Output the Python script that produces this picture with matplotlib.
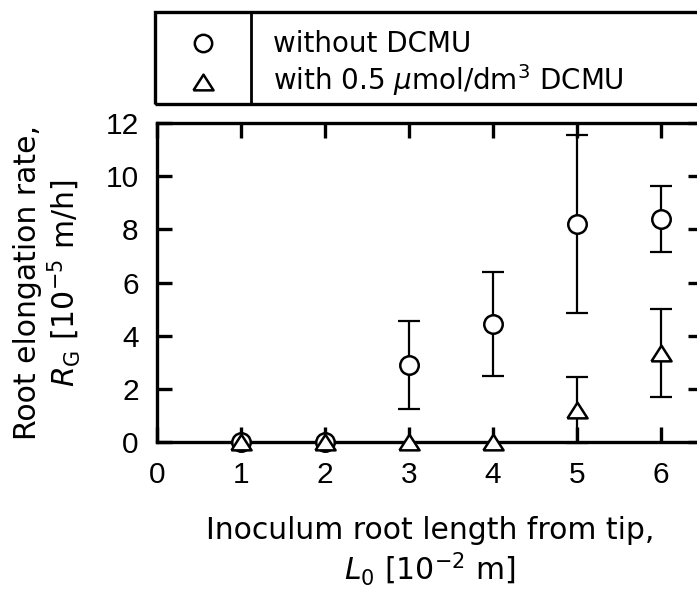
import numpy as np
import matplotlib
matplotlib.use('Agg')
import matplotlib.pyplot as plt
from matplotlib.lines import Line2D
from matplotlib.patches import Rectangle
from matplotlib.font_manager import FontProperties

# ---- data ----
x_lengths = [1, 2, 3, 4, 5, 6]
rate_without = [0.0, 0.0, 2.9, 4.45, 8.2, 8.4]
err_without = [0.0, 0.0, 1.67, 1.96, 3.35, 1.24]
rate_with = [0.0, 0.0, 0.0, 0.0, 1.2, 3.35]
err_with = [0.0, 0.0, 0.0, 0.0, 1.24, 1.65]
xticks = [0, 1, 2, 3, 4, 5, 6]
yticks = [0, 2, 4, 6, 8, 10, 12]
legend_labels = ['without DCMU', 'with 0.5 $\\mu$mol/dm$^3$ DCMU']
xlabel = 'Inoculum root length from tip,\n$L_0$ [10$^{-2}$ m]'
ylabel = 'Root elongation rate,\n$R_\\mathrm{G}$ [10$^{-5}$ m/h]'

plt.rcParams['font.family'] = ['DejaVu Sans']
plt.rcParams['mathtext.fontset'] = 'dejavusans'

W, H = 697, 589
fig = plt.figure(figsize=(W / 100, H / 100), dpi=100)

def fx(px):
    return px / W

def fy(py):
    return 1 - py / H

ax_left, ax_right, ax_top, ax_bottom = 156.7, 703, 123, 442
ax = fig.add_axes([fx(ax_left), fy(ax_bottom), fx(ax_right - ax_left), (ax_bottom - ax_top) / H])

tri = [(-1, -0.78), (1, -0.78), (0, 0.78), (-1, -0.78)]

x = np.array(x_lengths, dtype=float)
yw = np.array(rate_without)
ew = np.array(err_without)
yd = np.array(rate_with)
ed = np.array(err_with)

lw_err = 1.6
cap = 7.6
mw = ew > 0
ax.errorbar(x[mw], yw[mw], yerr=ew[mw], fmt='none', ecolor='black',
            elinewidth=lw_err, capsize=cap, capthick=lw_err, zorder=3, clip_on=False)
md = ed > 0
ax.errorbar(x[md], yd[md], yerr=ed[md], fmt='none', ecolor='black',
            elinewidth=lw_err, capsize=cap, capthick=lw_err, zorder=3, clip_on=False)

ax.plot(x, yw, linestyle='none', marker='o', markersize=13.3, markerfacecolor='white',
        markeredgecolor='black', markeredgewidth=1.8, zorder=4, clip_on=False)
ax.plot(x, yd, linestyle='none', marker=tri, markersize=14.5, markerfacecolor='white',
        markeredgecolor='black', markeredgewidth=1.8, zorder=5, clip_on=False)

ax.set_xlim(0, 6.5)
ax.set_ylim(0, 12)
ax.set_xticks(xticks)
ax.set_yticks(yticks)
ax.tick_params(axis='both', direction='in', length=11, width=2.4,
               top=True, right=True, colors='black')
ax.tick_params(axis='x', pad=14)
ax.tick_params(axis='y', pad=13)
tick_font = FontProperties(family='Liberation Sans', size=21.5)
ax.set_xticklabels([str(v) for v in xticks], fontproperties=tick_font)
ax.set_yticklabels([str(v) for v in yticks], fontproperties=tick_font)
for lab in ax.get_xticklabels() + ax.get_yticklabels():
    lab.set_fontproperties(tick_font)
for s in ax.spines.values():
    s.set_linewidth(2.4)
    s.set_color('black')

# axis labels
fig.text(fx(430), fy(552), xlabel, ha='center', va='center', fontsize=21.5,
         linespacing=1.15, multialignment='center')
fig.text(fx(48), fy(283), ylabel, ha='center', va='center', rotation=90,
         fontsize=21.5, linespacing=1.1, multialignment='center')

# legend box (drawn as figure artists)
box_l, box_r, box_t, box_b = 155, 740, 12, 104
rect = Rectangle((fx(box_l), fy(box_b)), fx(box_r - box_l), (box_b - box_t) / H,
                 transform=fig.transFigure, fill=False, edgecolor='black',
                 linewidth=2.4, clip_on=False)
fig.add_artist(rect)
fig.add_artist(Line2D([fx(251), fx(251)], [fy(box_t), fy(box_b)],
                      transform=fig.transFigure, color='black', linewidth=2.0))
fig.add_artist(Line2D([fx(203)], [fy(43)], transform=fig.transFigure, linestyle='none',
                      marker='o', markersize=12.5, markerfacecolor='white',
                      markeredgecolor='black', markeredgewidth=1.8))
fig.add_artist(Line2D([fx(203)], [fy(82)], transform=fig.transFigure, linestyle='none',
                      marker=tri, markersize=14.5, markerfacecolor='white',
                      markeredgecolor='black', markeredgewidth=1.8))
fig.text(fx(273), fy(52), legend_labels[0], ha='left', va='baseline', fontsize=20)
fig.text(fx(273), fy(90), legend_labels[1], ha='left', va='baseline', fontsize=20)

fig.savefig('out.png', dpi=100)
